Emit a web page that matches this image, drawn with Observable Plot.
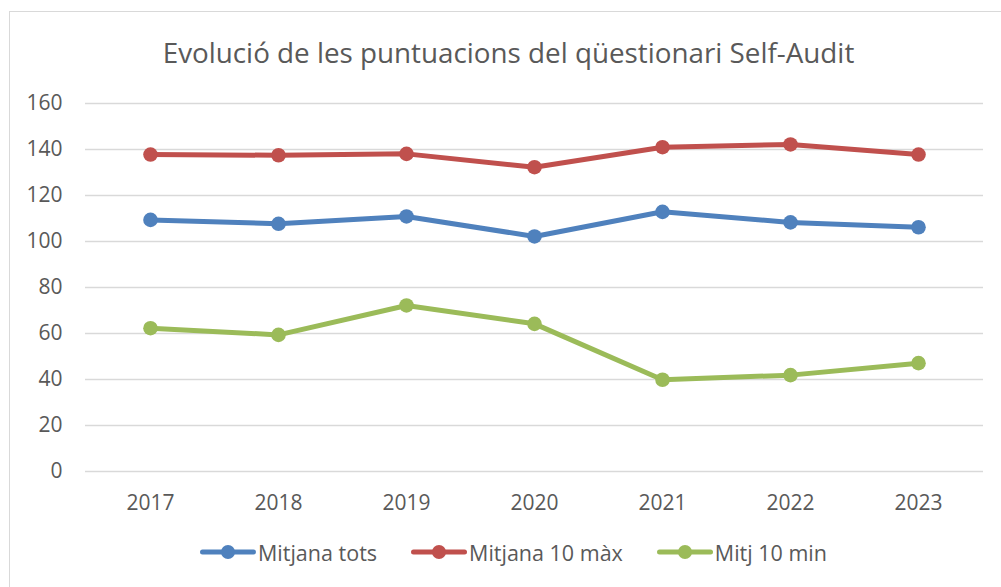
<!DOCTYPE html>
<html>
<head>
<meta charset="utf-8">
<script src="https://cdn.jsdelivr.net/npm/d3@7"></script>
<script src="https://cdn.jsdelivr.net/npm/@observablehq/plot@0.6"></script>
<style>
  html, body { margin: 0; padding: 0; background: #fff; }
  #wrap { position: relative; width: 1001px; height: 587px; overflow: hidden; font-family: "Open Sans", sans-serif; color: #595959; }
  #frame { position: absolute; left: 9px; top: 11px; width: 1100px; height: 700px; border-left: 1.5px solid #d9d9d9; border-top: 1.5px solid #d9d9d9; box-sizing: border-box; pointer-events: none; }
  #title { height: 80px; box-sizing: border-box; padding-top: 33px; line-height: 38px; text-align: center; padding-left: 16px; font-size: 27.8px; white-space: nowrap; }
  #chart { height: 440px; }
  #legend { height: 67px; display: flex; justify-content: center; align-items: center; padding-left: 26px; padding-bottom: 3px; box-sizing: border-box; font-size: 21.5px; }
  .item { display: flex; align-items: center; margin: 0 17px; white-space: nowrap; }
  .item svg { margin-right: 2px; }
</style>
</head>
<body>
<div id="wrap">
  <div id="frame"></div>
  <div id="title"></div>
  <div id="chart"></div>
  <div id="legend"></div>
</div>
<script>
const titleText = "Evolució de les puntuacions del qüestionari Self-Audit";
const years = ["2017", "2018", "2019", "2020", "2021", "2022", "2023"];
const seriesNames = ["Mitjana tots", "Mitjana 10 màx", "Mitj 10 min"];
const seriesColors = ["#4F81BD", "#C0504D", "#9BBB59"];
const mitjanaTots = [109.4, 107.7, 110.9, 102.2, 112.9, 108.3, 106.2];
const mitjana10Max = [137.8, 137.5, 138.1, 132.3, 141.0, 142.2, 137.8];
const mitj10Min = [62.3, 59.4, 72.2, 64.2, 39.9, 41.9, 47.1];
const yTicks = [0, 20, 40, 60, 80, 100, 120, 140, 160];

const seriesValues = [mitjanaTots, mitjana10Max, mitj10Min];
const data = [];
seriesNames.forEach((name, i) => {
  years.forEach((yr, j) => data.push({ series: name, year: yr, value: seriesValues[i][j] }));
});

document.getElementById("title").textContent = titleText;

const chart = Plot.plot({
  width: 1001,
  height: 440,
  marginLeft: 85,
  marginRight: 18,
  marginTop: 23,
  marginBottom: 49,
  style: { fontFamily: "Open Sans, sans-serif", fontSize: "21px", color: "#595959", background: "transparent" },
  x: { type: "point", domain: years, padding: 0.5, label: null },
  y: { domain: [0, 160], ticks: yTicks, label: null },
  color: { domain: seriesNames, range: seriesColors },
  marks: [
    Plot.gridY(yTicks, { stroke: "#d9d9d9", strokeOpacity: 1, strokeWidth: 1.5 }),
    Plot.axisY(yTicks, { tickSize: 0, tickPadding: 23, fill: "#595959", label: null }),
    Plot.axisX({ tickSize: 0, tickPadding: 24, fill: "#595959", label: null }),
    Plot.line(data, { x: "year", y: "value", z: "series", stroke: "series", strokeWidth: 5, strokeLinejoin: "round", strokeLinecap: "round" }),
    Plot.dot(data, { x: "year", y: "value", fill: "series", r: 7.3, stroke: "none" })
  ]
});
document.getElementById("chart").appendChild(chart);

const legend = document.getElementById("legend");
seriesNames.forEach((name, i) => {
  const item = document.createElement("div");
  item.className = "item";
  item.innerHTML = `<svg width="56" height="18"><line x1="2.5" x2="53.5" y1="9" y2="9" stroke="${seriesColors[i]}" stroke-width="5" stroke-linecap="round"/><circle cx="28" cy="9" r="7" fill="${seriesColors[i]}"/></svg><span>${name}</span>`;
  legend.appendChild(item);
});
</script>
</body>
</html>
